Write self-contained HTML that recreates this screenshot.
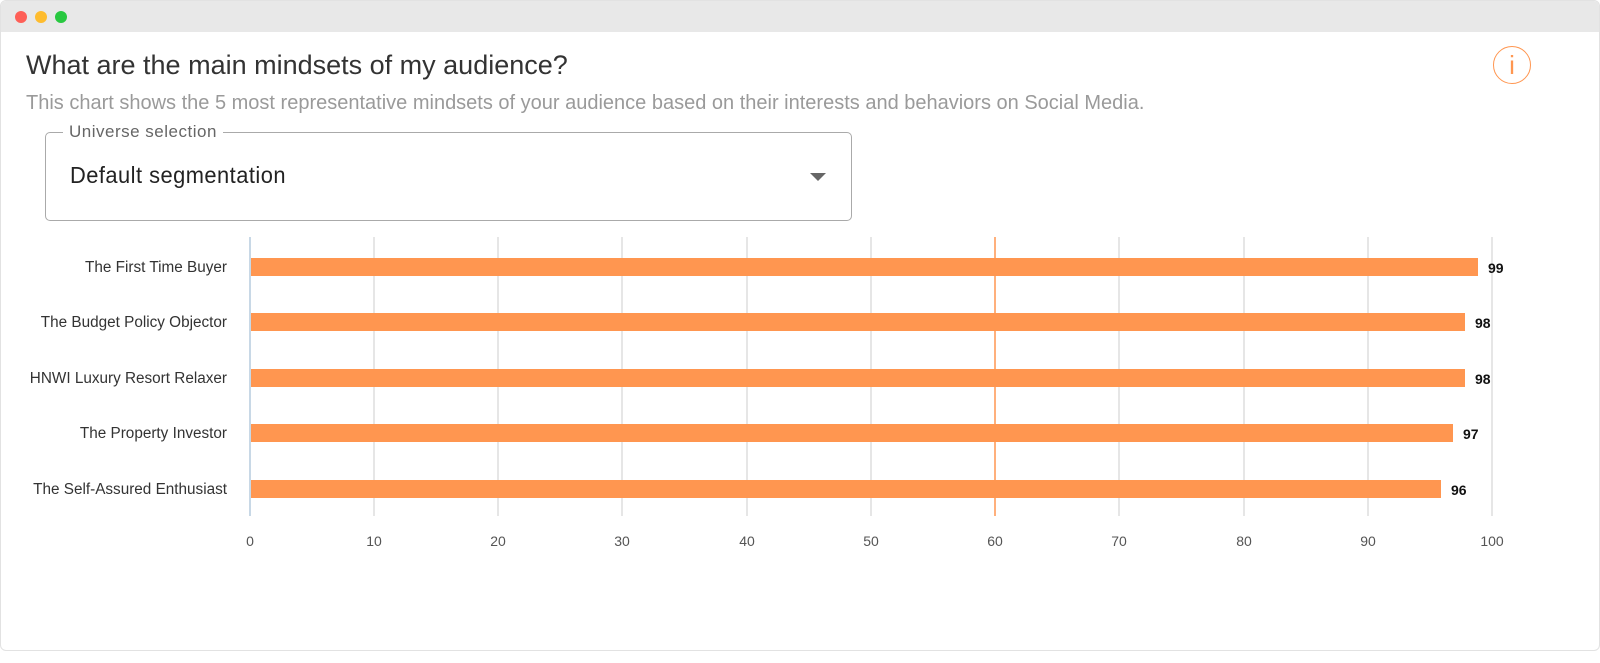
<!DOCTYPE html>
<html><head><style>
body{margin:0;width:1600px;height:663px;background:#fff;font-family:"Liberation Sans",sans-serif;overflow:hidden}
.win{position:absolute;left:0;top:0;width:1598px;height:649px;border:1px solid #e2e2e2;border-radius:6px;overflow:hidden;background:#fff}
.bar{position:absolute;left:0;top:0;width:100%;height:31px;background:#e8e8e8}
.dot{position:absolute;top:10px;width:12px;height:12px;border-radius:50%}
</style></head><body>
<div class="win">
<div class="bar"></div>
<div class="dot" style="left:14px;background:#fe5f57"></div>
<div class="dot" style="left:34px;background:#febc2e"></div>
<div class="dot" style="left:54px;background:#28c840"></div>
<div style="position:absolute;left:25px;top:49px;font-size:27px;color:#333;white-space:nowrap">What are the main mindsets of my audience?</div>
<div style="position:absolute;left:25px;top:91px;font-size:20px;color:#9a9a9a;white-space:nowrap">This chart shows the 5 most representative mindsets of your audience based on their interests and behaviors on Social Media.</div>
<div style="position:absolute;left:1492px;top:45px;width:36px;height:36px;border:1.5px solid #ff9650;border-radius:50%;color:#ff9650;text-align:center;font-size:26px;line-height:36px;font-weight:300">i</div>
<div style="position:absolute;left:44px;top:131px;width:805px;height:87px;border:1.5px solid #aaa;border-radius:5px"></div>
<div style="position:absolute;left:62px;top:121px;background:#fff;padding:0 6px;font-size:17px;color:#666;letter-spacing:.5px">Universe selection</div>
<div style="position:absolute;left:69px;top:161px;font-size:23px;color:#222;letter-spacing:.5px;transform:scaleX(.95);transform-origin:left">Default segmentation</div>
<div style="position:absolute;left:809px;top:172px;border-left:8px solid transparent;border-right:8px solid transparent;border-top:8px solid #666"></div>
<svg style="position:absolute;left:0;top:0" width="1600" height="663" font-family="Liberation Sans, sans-serif">
<g stroke="#e6e6e6" stroke-width="2">
<line x1="373" y1="236" x2="373" y2="515"/><line x1="497" y1="236" x2="497" y2="515"/><line x1="621" y1="236" x2="621" y2="515"/><line x1="746" y1="236" x2="746" y2="515"/><line x1="870" y1="236" x2="870" y2="515"/><line x1="1118" y1="236" x2="1118" y2="515"/><line x1="1243" y1="236" x2="1243" y2="515"/><line x1="1367" y1="236" x2="1367" y2="515"/><line x1="1491" y1="236" x2="1491" y2="515"/>
</g>
<line x1="994" y1="236" x2="994" y2="515" stroke="#ff9650" stroke-width="1.5"/>
<line x1="249" y1="236" x2="249" y2="515" stroke="#c8d8e6" stroke-width="2"/>
<g fill="#ff9650">
<rect x="250" y="257" width="1227" height="18"/>
<rect x="250" y="312" width="1214" height="18"/>
<rect x="250" y="368" width="1214" height="18"/>
<rect x="250" y="423" width="1202" height="18"/>
<rect x="250" y="479" width="1190" height="18"/>
</g>
<g font-size="15.3" fill="#333" text-anchor="end">
<text x="226" y="271">The First Time Buyer</text>
<text x="226" y="326">The Budget Policy Objector</text>
<text x="226" y="382">HNWI Luxury Resort Relaxer</text>
<text x="226" y="437">The Property Investor</text>
<text x="226" y="493">The Self-Assured Enthusiast</text>
</g>
<g font-size="14" font-weight="bold" fill="#111">
<text x="1487" y="272">99</text><text x="1474" y="327">98</text><text x="1474" y="383">98</text><text x="1462" y="438">97</text><text x="1450" y="494">96</text>
</g>
<g font-size="14" fill="#555" text-anchor="middle">
<text x="249" y="545">0</text><text x="373" y="545">10</text><text x="497" y="545">20</text><text x="621" y="545">30</text><text x="746" y="545">40</text><text x="870" y="545">50</text><text x="994" y="545">60</text><text x="1118" y="545">70</text><text x="1243" y="545">80</text><text x="1367" y="545">90</text><text x="1491" y="545">100</text>
</g>
</svg>
</div>
</body></html>
